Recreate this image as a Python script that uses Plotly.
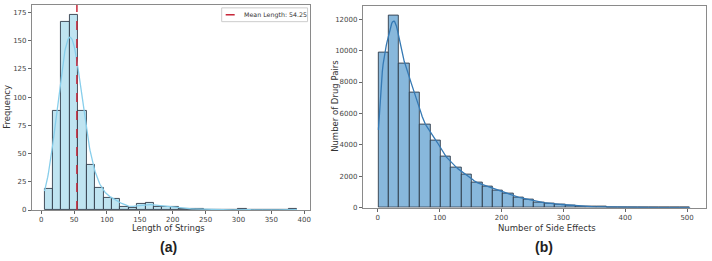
import math
import numpy as np
import plotly.graph_objects as go

# ---------------- data ----------------
# (a) lengths of strings histogram (30 equal bins over the data range)
len_min, len_max = 5.0, 389.0
len_counts = [19, 88, 167, 173, 88, 40, 20, 11, 10, 3, 2, 5, 6, 3, 3,
              3, 1, 1, 1, 0, 0, 0, 0, 1, 0, 0, 0, 0, 0, 1]
mean_length = 54.25

# (b) number of side effects histogram (30 equal bins over the data range)
se_min, se_max = 1.0, 505.0
se_counts = [9900, 12250, 9200, 7350, 5260, 4300, 3230, 2530, 2090, 1580,
             1370, 1100, 890, 660, 490, 360, 275, 210, 150, 105,
             75, 55, 40, 28, 20, 14, 10, 7, 5, 3]

xticks_a = [0, 50, 100, 150, 200, 250, 300, 350, 400]
yticks_a = [0, 25, 50, 75, 100, 125, 150, 175]
xticks_b = [0, 100, 200, 300, 400, 500]
yticks_b = [0, 2000, 4000, 6000, 8000, 10000, 12000]

W, H = 712, 261


def edges_of(lo, hi, counts):
    return np.linspace(lo, hi, len(counts) + 1)


def binned_kde(edges, counts, npts=400, bw_scale=1.0):
    """Gaussian KDE of data spread uniformly inside bins, on count scale."""
    counts = np.asarray(counts, float)
    centers = 0.5 * (edges[:-1] + edges[1:])
    n = counts.sum()
    mu = (counts * centers).sum() / n
    sd = math.sqrt((counts * (centers - mu) ** 2).sum() / n)
    h = sd * n ** (-0.2) * bw_scale
    xs = np.linspace(edges[0], edges[-1], npts)
    phi = np.vectorize(lambda z: 0.5 * (1 + math.erf(z / math.sqrt(2))))
    ys = np.zeros_like(xs)
    for a, b, c in zip(edges[:-1], edges[1:], counts):
        if c:
            ys += c * (phi((xs - a) / h) - phi((xs - b) / h))
    return xs, ys


ea = edges_of(len_min, len_max, len_counts)
eb = edges_of(se_min, se_max, se_counts)
ca = 0.5 * (ea[:-1] + ea[1:])
cb = 0.5 * (eb[:-1] + eb[1:])
ka_x, ka_y = binned_kde(ea, len_counts)
kb_x, kb_y = binned_kde(eb, se_counts, bw_scale=0.8)

ya_top = 1.05 * max(max(len_counts), ka_y.max())
yb_top = 1.05 * max(max(se_counts), kb_y.max())

fig = go.Figure()
EDGE = "rgba(40,50,65,0.85)"

fig.add_trace(go.Bar(x=ca, y=len_counts, width=ea[1] - ea[0],
                     marker=dict(color="#bfe4f1", line=dict(color=EDGE, width=1)),
                     showlegend=False, xaxis="x", yaxis="y"))
fig.add_trace(go.Scatter(x=ka_x, y=ka_y, mode="lines",
                         line=dict(color="#87ceeb", width=1.3),
                         showlegend=False, xaxis="x", yaxis="y"))
fig.add_trace(go.Scatter(x=[mean_length, mean_length], y=[0, ya_top], mode="lines",
                         line=dict(color="#c8283a", width=1.5, dash="dash"),
                         name=f"Mean Length: {mean_length:.2f}",
                         showlegend=False, xaxis="x", yaxis="y"))
fig.add_trace(go.Bar(x=cb, y=se_counts, width=eb[1] - eb[0],
                     marker=dict(color="#88b8dc", line=dict(color=EDGE, width=1)),
                     showlegend=False, xaxis="x2", yaxis="y2"))
fig.add_trace(go.Scatter(x=kb_x, y=kb_y, mode="lines",
                         line=dict(color="#3579b4", width=1.3),
                         showlegend=False, xaxis="x2", yaxis="y2"))

FONT = "DejaVu Sans"
tickfont = dict(family=FONT, size=7, color="#444")
axis_common = dict(showgrid=False, zeroline=False, showline=True, mirror=True,
                   linecolor="#8a8a8a", linewidth=1, ticks="outside", ticklen=3,
                   tickcolor="#666", tickfont=tickfont, tickformat="d")

dxa = len_max - len_min
dxb = se_max - se_min


def px(x):
    return x / W


def py(y):
    return 1 - y / H


# matplotlib-style legend box for the mean line
shapes = [
    dict(type="rect", xref="paper", yref="paper", x0=px(222), x1=px(308),
         y0=py(22), y1=py(8), line=dict(color="#cccccc", width=1), fillcolor="white",
         layer="above"),
    dict(type="line", xref="paper", yref="paper", x0=px(226), x1=px(239),
         y0=py(15), y1=py(15), line=dict(color="#c8283a", width=1.5, dash="dash"),
         layer="above"),
]


def ann(text, x, y, size, family=FONT, angle=0, color="#333"):
    return dict(text=text, x=px(x), y=py(y), xref="paper", yref="paper",
                xanchor="center", yanchor="middle", showarrow=False, textangle=angle,
                font=dict(family=family, size=size, color=color))


annotations = [
    dict(text=f"Mean Length: {mean_length:.2f}", x=px(242), y=py(15), xref="paper",
         yref="paper", xanchor="left", yanchor="middle", showarrow=False,
         font=dict(family=FONT, size=6.3, color="#333")),
    ann("Length of Strings", 169, 232, 8.5),
    ann("Number of Side Effects", 548, 232, 8.5),
    ann("Frequency", 7.5, 108, 8.5, angle=-90),
    ann("Number of Drug Pairs", 336, 108, 8.5, angle=-90),
    ann("<b>(a)</b>", 169, 251, 14, family="Liberation Sans", color="#222"),
    ann("<b>(b)</b>", 545, 251, 14, family="Liberation Sans", color="#222"),
]

fig.update_layout(
    width=W, height=H, autosize=False,
    margin=dict(l=0, r=0, t=0, b=0),
    paper_bgcolor="white", plot_bgcolor="white",
    bargap=0, showlegend=False,
    xaxis=dict(domain=[0.0449, 0.4354], range=[len_min - 0.05 * dxa, len_max + 0.05 * dxa],
               tickvals=xticks_a, anchor="y", **axis_common),
    yaxis=dict(domain=[0.1828, 0.9808], range=[0, ya_top], tickvals=yticks_a, anchor="x",
               **axis_common),
    xaxis2=dict(domain=[0.5103, 0.9926], range=[se_min - 0.05 * dxb, se_max + 0.05 * dxb],
                tickvals=xticks_b, anchor="y2", **axis_common),
    yaxis2=dict(domain=[0.1916, 0.9782], range=[0, yb_top], tickvals=yticks_b, anchor="x2",
                **axis_common),
    shapes=shapes,
    annotations=annotations,
)

fig.write_html("out.html",
               config={"responsive": False, "displayModeBar": False},
               post_script="document.body.style.margin='0';document.body.style.overflow='hidden';")
